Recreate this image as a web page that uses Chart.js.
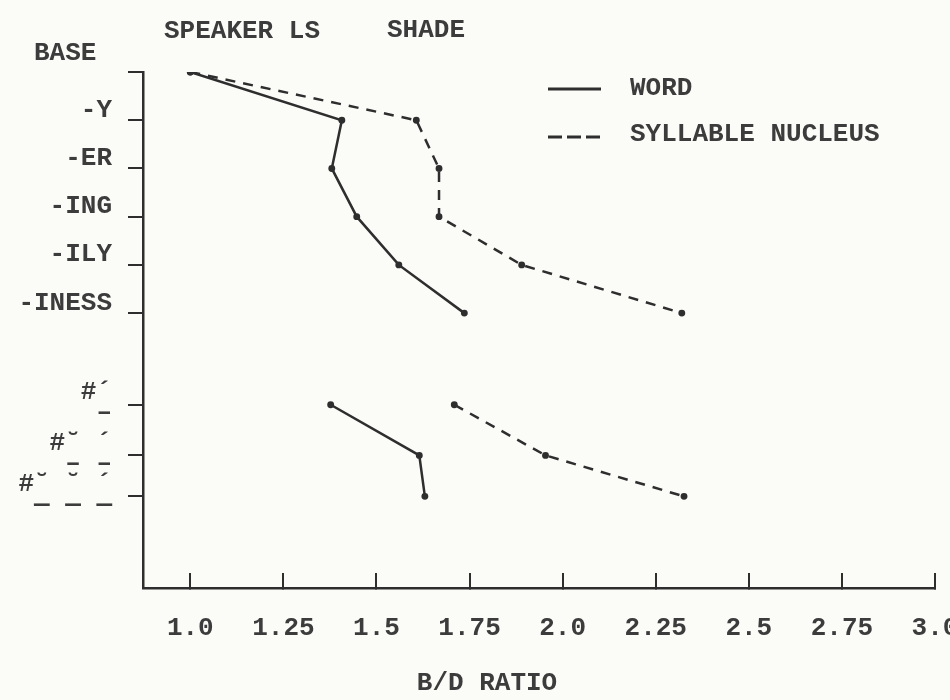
<!DOCTYPE html>
<html>
<head>
<meta charset="utf-8">
<script src="https://cdn.jsdelivr.net/npm/chart.js@4.4.1/dist/chart.umd.min.js"></script>
<style>
  html, body { margin: 0; padding: 0; background: #fbfbf8; }
  #wrap { width: 950px; height: 700px; }
</style>
</head>
<body>
<div id="wrap"><canvas id="bdChart" width="950" height="700"></canvas></div>

<script>
// rows on the vertical axis (top to bottom) and where they sit
var categories = ['BASE', '-Y', '-ER', '-ING', '-ILY', '-INESS',
  ['#´', ' –'], ['#˘ ´', ' – –'], ['#˘ ˘ ´', ' — — —']]
var rowPos = [0, 1, 2, 3, 4, 5, 6.9, 7.95, 8.8]

// B/D ratio values
var wordUpper = [1.0, 1.407, 1.38, 1.447, 1.56, 1.736]
var nucleusUpper = [1.0, 1.607, 1.668, 1.668, 1.89, 2.32]
var wordLower = [1.377, 1.615, 1.63]
var nucleusLower = [1.709, 1.954, 2.326]

var xTicks = [1.0, 1.25, 1.5, 1.75, 2.0, 2.25, 2.5, 2.75, 3.0]
var xTickLabels = ['1.0', '1.25', '1.5', '1.75', '2.0', '2.25', '2.5', '2.75', '3.0']

var ink = '#2e2e2e'
var typeInk = '#3c3c3c'
var typeFont = '"Liberation Mono", "DejaVu Sans Mono", monospace'

function pts(vals, rows) {
	return vals.map(function (v, i) { return { x: v, y: rowPos[rows[i]] } })
}

function lineSet(label, vals, rows, dashed) {
	return {
		label: label,
		data: pts(vals, rows),
		borderColor: ink,
		backgroundColor: ink,
		borderWidth: 2.5,
		borderDash: dashed ? [10, 8] : [],
		pointRadius: 2.2,
		pointHoverRadius: 2.2,
		tension: 0,
		fill: false
	}
}

var upperRows = [0, 1, 2, 3, 4, 5]
var lowerRows = [6, 7, 8]

// title text, axis captions and the legend, typed on like the original
var paperText = {
	id: 'paperText',
	beforeDraw: function (chart) {
		var c = chart.ctx
		c.save()
		c.fillStyle = '#fbfbf8'
		c.fillRect(0, 0, chart.width, chart.height)
		c.restore()
	},
	afterDraw: function (chart) {
		var c = chart.ctx
		c.save()
		c.fillStyle = typeInk
		c.strokeStyle = ink
		c.font = 'bold 26px ' + typeFont
		c.textBaseline = 'middle'
		c.textAlign = 'left'
		c.fillText('SPEAKER LS', 164, 31)
		c.fillText('SHADE', 387, 30)
		c.fillText(categories[0], 34, 53)   // top row label sits above its tick
		c.textAlign = 'center'
		c.fillText('B/D RATIO', 487, 683)

		// legend
		c.textAlign = 'left'
		c.lineWidth = 3
		c.beginPath(); c.moveTo(548, 89); c.lineTo(601, 89); c.stroke()
		c.fillText('WORD', 630, 88)
		c.setLineDash([14, 5])
		c.beginPath(); c.moveTo(548, 137); c.lineTo(600, 137); c.stroke()
		c.setLineDash([])
		c.fillText('SYLLABLE NUCLEUS', 630, 134)
		c.restore()
	}
}

var cfg = {
	type: 'line',
	data: {
		datasets: [
			lineSet('WORD', wordUpper, upperRows, false),
			lineSet('SYLLABLE NUCLEUS', nucleusUpper, upperRows, true),
			lineSet('WORD', wordLower, lowerRows, false),
			lineSet('SYLLABLE NUCLEUS', nucleusLower, lowerRows, true)
		]
	},
	options: {
		responsive: false,
		animation: false,
		layout: { padding: { top: 72, right: 15, left: 0, bottom: 0 } },
		plugins: {
			legend: { display: false },
			tooltip: { enabled: false }
		},
		scales: {
			x: {
				type: 'linear',
				min: 0.873,
				max: 3.0,
				border: { display: true, color: ink, width: 2.5 },
				grid: { drawOnChartArea: false, drawTicks: true, tickLength: -15, color: ink, lineWidth: 2 },
				afterBuildTicks: function (s) { s.ticks = xTicks.map(function (v) { return { value: v } }) },
				ticks: {
					color: typeInk,
					padding: 40,
					maxRotation: 0,
					autoSkip: false,
					font: { family: typeFont, size: 26, weight: 'bold' },
					callback: function (v, i) { return xTickLabels[i] }
				},
				afterFit: function (s) {
					s.height = 112
					s.paddingLeft = 0
					s.paddingRight = 0
				}
			},
			y: {
				type: 'linear',
				reverse: true,
				min: 0,
				max: 10.7,
				border: { display: true, color: ink, width: 2.5 },
				grid: { drawOnChartArea: false, drawTicks: true, tickLength: 15, color: ink, lineWidth: 2 },
				afterBuildTicks: function (s) { s.ticks = rowPos.map(function (v) { return { value: v } }) },
				ticks: {
					color: typeInk,
					padding: 16,
					labelOffset: -2,
					autoSkip: false,
					font: function (ctx) {
						return { family: typeFont, size: 26, weight: 'bold', lineHeight: ctx.index >= 6 ? 0.78 : 0.62 }
					},
					callback: function (v, i) {
						var lab = categories[i]
						if (i === 0) return ''
						// a blank second line lifts the typed suffix a little above its tick
						return Array.isArray(lab) ? lab : [lab, '']
					}
				},
				afterFit: function (s) {
					s.width = 143
					s.paddingTop = 0
					s.paddingBottom = 0
				}
			}
		}
	},
	plugins: [paperText]
}

var bd_chart = new Chart(document.getElementById('bdChart'), cfg)
</script>
</body>
</html>
